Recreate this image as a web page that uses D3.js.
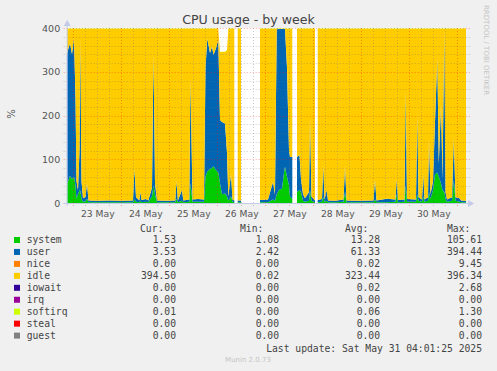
<!DOCTYPE html>
<html>
<head>
<meta charset="utf-8">
<script src="https://cdn.jsdelivr.net/npm/d3@7"></script>
<style>
  body { margin: 0; background: #f0f0f0; }
  text { font-family: "DejaVu Sans", sans-serif; }
  .mono { font-family: "DejaVu Sans Mono", monospace; }
</style>
</head>
<body>
<div id="chart"></div>
<script>
// hours after 23 May 2025 00:00 (null rows = no data)
var hours = [-3.3, -2.65, -1.65, -0.65, 0.35, 1.1, 1.6, 2.35, 3.1, 3.5, 4.1, 4.85, 6.1, 6.85, 7.6, 12, 18, 24, 29.85, 30.6,
    31.35, 33, 33.5, 34.1, 36.35, 37.5, 39.35, 40.1, 40.85, 41.85, 46, 51, 51.6, 52.3, 54.35, 55, 58, 58.6, 59.6, 62.35,
    65.35, 66.1, 67, 68.35, 69.35, 70.1, 71.35, 72.5, 73.35, 74.35, 75.85, 76.85, 77.5, 78.85, 79.6, 80.5, 81, 82.2, 83.85, 88,
    93.35, 97.35, 99.85, 100.85, 101.7, 102.85, 104.35, 105.35, 105.85, 106.85, 107.85, 108.35, 109.5, 110.5, 111.85, 113.1, 113.85, 114.85, 115.85, 117.85,
    118.35, 119.1, 120.85, 121.5, 122.2, 124.35, 125, 125.6, 126.7, 127.35, 131, 135.1, 135.85, 136.6, 142, 150.1, 150.85, 151.6, 156.7, 161.1,
    161.7, 162.35, 165.6, 166.2, 166.85, 171.35, 172, 172.6, 174.35, 175, 175.6, 177.35, 177.85, 178.6, 179.85, 180.85, 182, 182.75, 183.85, 184.6,
    185.5, 186.1, 186.85, 189.35, 190.25, 191.1, 193.1, 193.85, 196.4];

var system = [45, 50, 62, 55, 60, 40, 10, 20, 30, 28, 10, 3, 4, 10, 2, 1.5, 2, 1.5, 2, 8,
    3, 2, 5, 2, 3, 2, 15, 40, 20, 2, 1.5, 2, 10, 2, 5, 2, 3, 45, 3, 3,
    3, 60, 72, 78, 80, 84, 75, 70, 45, 20, 22, 15, 5, 15, 3, 2, null, 2, 2, null,
    2, 2, 8, 5, 20, 30, 33, 70, 83, 60, 40, 15, 10, null, 25, 30, 25, 5, 3, 5,
    30, 5, 2, null, 2, 3, 15, 3, 5, 2, 1.5, 3, 25, 2, 1.5, 2, 8, 2, 2, 3,
    20, 2, 3, 40, 3, 3, 20, 5, 3, 15, 3, 5, 25, 10, 30, 65, 70, 60, 45, 30,
    25, 10, 3, 5, 53, 5, 3, 2, 1.5];

var user = [295, 300, 303, 285, 318, 200, 40, 10, 90, 348, 40, 8, 10, 35, 4, 3.5, 4, 3.5, 4, 70,
    10, 4, 20, 5, 6, 4, 20, 300, 25, 4, 3.5, 4, 40, 4, 25, 4, 5, 240, 5, 6,
    5, 250, 304, 265, 277, 255, 279, 303, 145, 165, 160, 100, 10, 50, 5, 4, null, 4, 4, null,
    5, 6, 40, 15, 377, 368, 365, 328, 315, 250, 80, 90, 95, null, 80, 80, 30, 15, 8, 20,
    164, 10, 4, null, 5, 6, 70, 5, 25, 4, 3.5, 5, 60, 4, 3.5, 4, 45, 4, 8, 5,
    35, 5, 5, 220, 6, 5, 180, 8, 5, 50, 5, 8, 120, 10, 20, 120, 261, 30, 180, 25,
    370, 15, 5, 8, 95, 8, 8, 4, 3.5];

var idle = [58, 48, 33, 58, 20, 158, 348, 368, 278, 22, 348, 387, 384, 353, 392, 393, 392, 393, 392, 320,
    385, 392, 373, 391, 389, 392, 363, 58, 353, 392, 393, 392, 348, 392, 368, 392, 390, 113, 390, 389,
    390, 88, 22, 55, 41, 59, 44, 25, 155, 160, 163, 235, 383, 333, 390, 392, null, 392, 392, null,
    391, 390, 350, 378, 1, 0, 0, 0, 0, 88, 278, 293, 293, null, 293, 288, 343, 378, 387, 373,
    204, 383, 392, null, 391, 389, 313, 390, 368, 392, 393, 390, 313, 392, 393, 392, 345, 392, 388, 390,
    343, 391, 390, 138, 389, 390, 198, 385, 390, 333, 390, 385, 253, 378, 348, 213, 67, 308, 173, 343,
    3, 373, 390, 385, 250, 385, 387, 392, 394.5];

var softirq = [1, 1, 1, 1, 1, 1, 1, 1, 1, 1, 1, 1, 1, 1, 1, 1, 1, 1, 1, 1,
    1, 1, 1, 1, 1, 1, 1, 1, 1, 1, 1, 1, 1, 1, 1, 1, 1, 1, 1, 1,
    1, 1, 1, 1, 1, 1, 1, 1, 1, 1, 1, 1, 1, 1, 1, 1, null, 1, 1, null,
    1, 1, 1, 1, 1, 1, 1, 1, 1, 1, 1, 1, 1, null, 1, 1, 1, 1, 1, 1,
    1, 1, 1, null, 1, 1, 1, 1, 1, 1, 1, 1, 1, 1, 1, 1, 1, 1, 1, 1,
    1, 1, 1, 1, 1, 1, 1, 1, 1, 1, 1, 1, 1, 1, 1, 1, 1, 1, 1, 1,
    1, 1, 1, 1, 1, 1, 1, 1, 0.01];

var yTicks = [0, 100, 200, 300, 400];
var dayLabels = ["23 May", "24 May", "25 May", "26 May", "27 May", "28 May", "29 May", "30 May"];

var legendNames = ["system", "user", "nice", "idle", "iowait", "irq", "softirq", "steal", "guest"];
var legendColors = ["#00cc00", "#0066b3", "#ff8000", "#ffcc00", "#330099", "#990099", "#ccff00", "#ff0000", "#808080"];
var curVals = [1.53, 3.53, 0.00, 394.50, 0.00, 0.00, 0.01, 0.00, 0.00];
var minVals = [1.08, 2.42, 0.00, 0.02, 0.00, 0.00, 0.00, 0.00, 0.00];
var avgVals = [13.28, 61.33, 0.02, 323.44, 0.02, 0.00, 0.06, 0.00, 0.00];
var maxVals = [105.61, 394.44, 9.45, 396.34, 2.68, 0.00, 1.30, 0.00, 0.00];

(function () {
    var base = Date.UTC(2025, 4, 23);
    function toDate(h) { return new Date(base + h * 3600e3); }

    var rows = hours.map(function (h, i) {
        return { t: toDate(h), system: system[i], user: user[i], idle: idle[i], softirq: softirq[i] };
    });

    var W = 497, H = 371;
    var pLeft = 66.7, pRight = 466.1, pTop = 28, pBottom = 203;

    var svg = d3.select("#chart").append("svg")
        .attr("width", W)
        .attr("height", H);

    svg.append("rect").attr("width", W).attr("height", H).attr("fill", "#f0f0f0");
    svg.append("rect").attr("x", pLeft).attr("y", pTop).attr("width", pRight - pLeft).attr("height", pBottom - pTop).attr("fill", "#ffffff");

    var x = d3.scaleUtc().domain([toDate(-3.3), toDate(196.4)]).range([pLeft, pRight]);
    var y = d3.scaleLinear().domain([0, 400]).range([pBottom, pTop]);

    var keys = ["system", "user", "idle", "softirq"];
    var colorOf = { system: "#00cc00", user: "#0066b3", idle: "#ffcc00", softirq: "#ccff00" };

    var stacked = d3.stack().keys(keys)(rows);

    var area = d3.area()
        .defined(function (d) { return d.data.system != null; })
        .x(function (d) { return x(d.data.t); })
        .y0(function (d) { return y(d[0]); })
        .y1(function (d) { return y(d[1]); });

    svg.append("defs").append("clipPath").attr("id", "plot")
        .append("rect").attr("x", pLeft).attr("y", pTop - 2).attr("width", pRight - pLeft).attr("height", pBottom - pTop + 2);

    svg.append("g").attr("clip-path", "url(#plot)")
        .selectAll("path")
        .data(stacked)
        .enter()
        .append("path")
        .attr("fill", function (d) { return colorOf[d.key]; })
        .attr("d", area);

    // grid (drawn over the areas like rrdtool)
    var grid = svg.append("g");
    var minorY = d3.range(0, 401, 20);
    grid.selectAll("line.hy")
        .data(minorY)
        .enter()
        .append("line")
        .attr("x1", pLeft - 3).attr("x2", pRight + 4)
        .attr("y1", function (d) { return Math.round(y(d)) + 0.5; })
        .attr("y2", function (d) { return Math.round(y(d)) + 0.5; })
        .style("stroke", function (d) { return d % 100 === 0 ? "rgba(255,0,0,0.35)" : "rgba(110,110,110,0.35)"; })
        .style("stroke-dasharray", "1,2");

    var sixHours = d3.utcHour.every(6).range(toDate(-3.3), toDate(196.4));
    grid.selectAll("line.vx")
        .data(sixHours)
        .enter()
        .append("line")
        .attr("x1", function (d) { return Math.round(x(d)) + 0.5; })
        .attr("x2", function (d) { return Math.round(x(d)) + 0.5; })
        .attr("y1", pTop).attr("y2", pBottom + 3)
        .style("stroke", function (d) { return d.getUTCHours() === 0 ? "rgba(255,0,0,0.35)" : "rgba(110,110,110,0.35)"; })
        .style("stroke-dasharray", "1,2");

    // axis lines with arrows
    var axisColor = "#c4cbe8";
    svg.append("line").attr("x1", pLeft - 3).attr("x2", pRight + 3).attr("y1", pBottom + 0.5).attr("y2", pBottom + 0.5)
        .style("stroke", axisColor);
    svg.append("line").attr("x1", pLeft + 0.5).attr("x2", pLeft + 0.5).attr("y1", pBottom + 3).attr("y2", pTop - 3)
        .style("stroke", axisColor);
    svg.append("path").attr("d", "M" + (pRight + 2) + "," + (pBottom - 3) + "L" + (pRight + 8) + "," + (pBottom + 0.5) + "L" + (pRight + 2) + "," + (pBottom + 4) + "Z")
        .attr("fill", axisColor);
    svg.append("path").attr("d", "M" + (pLeft - 3) + "," + (pTop - 2) + "L" + (pLeft + 0.5) + "," + (pTop - 8) + "L" + (pLeft + 4) + "," + (pTop - 2) + "Z")
        .attr("fill", axisColor);

    // tick labels
    var yAxis = d3.axisLeft(y).tickValues(yTicks).tickSize(0).tickPadding(6.5);
    var gy = svg.append("g").attr("transform", "translate(" + pLeft + ",0)").call(yAxis);
    gy.select(".domain").remove();
    gy.selectAll("text").style("font-family", "DejaVu Sans").style("font-size", "9.5px").attr("fill", "#555");

    var noons = dayLabels.map(function (s, i) { return toDate(12 + 24 * i); });
    var xAxis = d3.axisBottom(x).tickValues(noons).tickSize(0).tickPadding(7)
        .tickFormat(function (d, i) { return dayLabels[i]; });
    var gx = svg.append("g").attr("transform", "translate(0," + pBottom + ")").call(xAxis);
    gx.select(".domain").remove();
    gx.selectAll("text").style("font-family", "DejaVu Sans").style("font-size", "9.2px").attr("fill", "#555");

    // title, y label, side text
    svg.append("text").attr("x", 248.5).attr("y", 24).attr("text-anchor", "middle")
        .style("font-size", "12.6px").attr("fill", "#444").text("CPU usage - by week");
    svg.append("text").attr("transform", "translate(15,114) rotate(-90)").attr("text-anchor", "middle")
        .style("font-size", "10px").attr("fill", "#555").text("%");
    svg.append("text").attr("transform", "translate(484,5) rotate(90)")
        .style("font-size", "7px").attr("fill", "#c4c4c4").text("RRDTOOL / TOBI OETIKER");

    // legend
    var lg = svg.append("g").style("font-size", "9.7px").attr("fill", "#444");
    [["Cur:", 140], ["Min:", 240], ["Avg:", 345], ["Max:", 447]].forEach(function (h) {
        lg.append("text").attr("x", h[1]).attr("y", 231.5).attr("class", "mono").text(h[0]);
    });
    var rowsG = lg.selectAll("g.row")
        .data(legendNames)
        .enter()
        .append("g")
        .attr("transform", function (d, i) { return "translate(0," + (240 + i * 11.95) + ")"; });
    rowsG.append("rect").attr("x", 14).attr("y", -3).attr("width", 6).attr("height", 6)
        .attr("fill", function (d, i) { return legendColors[i]; });
    rowsG.append("text").attr("class", "mono").attr("x", 26.7).attr("y", 3.4).text(function (d) { return d; });
    [[curVals, 176], [minVals, 279], [avgVals, 380], [maxVals, 482]].forEach(function (c) {
        rowsG.append("text").attr("class", "mono").attr("x", c[1]).attr("y", 3.4).attr("text-anchor", "end")
            .text(function (d, i) { return c[0][i].toFixed(2); });
    });
    lg.append("text").attr("class", "mono").attr("x", 482).attr("y", 351.7).attr("text-anchor", "end")
        .text("Last update: Sat May 31 04:01:25 2025");

    svg.append("text").attr("x", 248).attr("y", 362).attr("text-anchor", "middle")
        .style("font-size", "7px").attr("fill", "#c4c4c4").text("Munin 2.0.73");
})();
</script>
</body>
</html>
